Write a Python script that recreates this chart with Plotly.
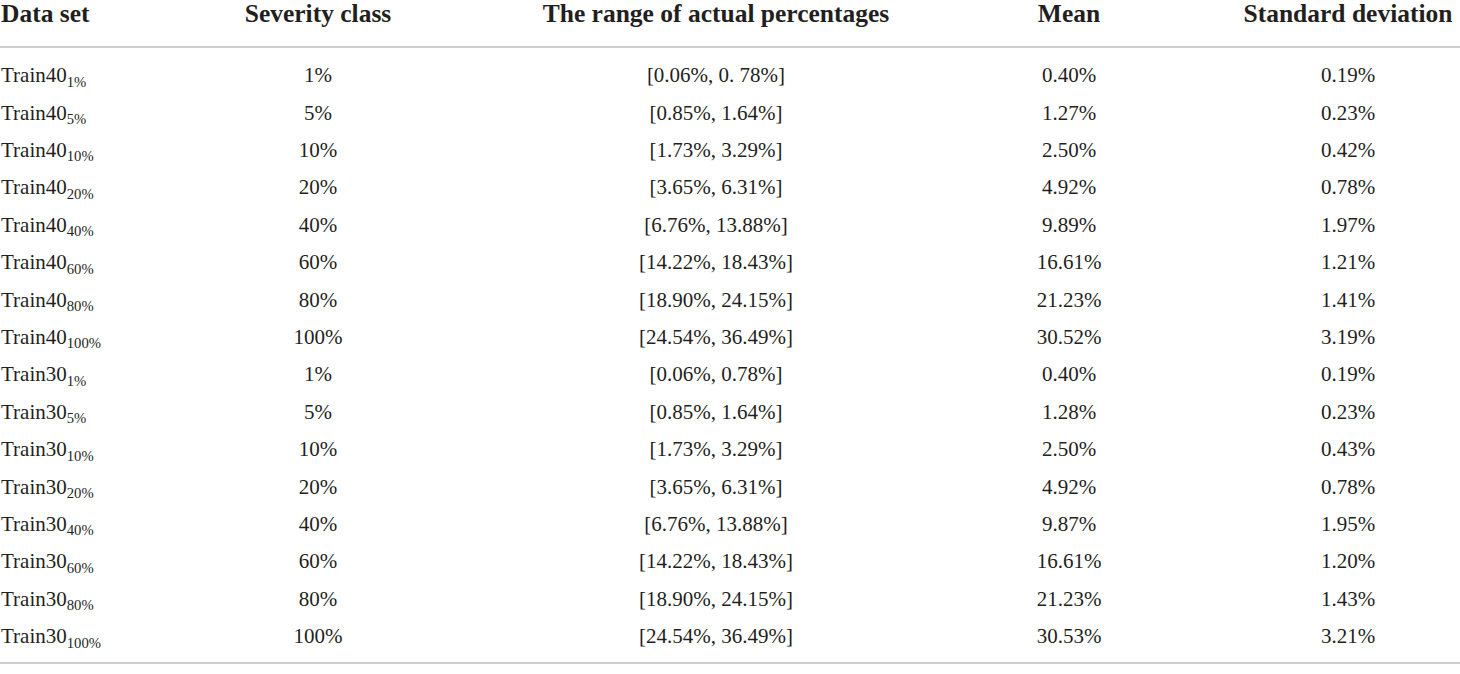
import plotly.graph_objects as go

# ---- table content ----
train_sets = ["Train40"] * 8 + ["Train30"] * 8
severity = ["1%", "5%", "10%", "20%", "40%", "60%", "80%", "100%"] * 2
ranges = [
    "[0.06%, 0. 78%]", "[0.85%, 1.64%]", "[1.73%, 3.29%]", "[3.65%, 6.31%]",
    "[6.76%, 13.88%]", "[14.22%, 18.43%]", "[18.90%, 24.15%]", "[24.54%, 36.49%]",
    "[0.06%, 0.78%]", "[0.85%, 1.64%]", "[1.73%, 3.29%]", "[3.65%, 6.31%]",
    "[6.76%, 13.88%]", "[14.22%, 18.43%]", "[18.90%, 24.15%]", "[24.54%, 36.49%]",
]
means = ["0.40%", "1.27%", "2.50%", "4.92%", "9.89%", "16.61%", "21.23%", "30.52%",
         "0.40%", "1.28%", "2.50%", "4.92%", "9.87%", "16.61%", "21.23%", "30.53%"]
stds = ["0.19%", "0.23%", "0.42%", "0.78%", "1.97%", "1.21%", "1.41%", "3.19%",
        "0.19%", "0.23%", "0.43%", "0.78%", "1.95%", "1.20%", "1.43%", "3.21%"]
headers = ["Data set", "Severity class", "The range of actual percentages",
           "Mean", "Standard deviation"]

# ---- layout helpers ----
W, H = 1460, 674
col_x = [1, 318, 716, 1069, 1348]
row0, row_step = 77, 37.4
header_y = 16
ink = "#231f20"
rule = "#bcbcbc"

rows_y = [row0 + i * row_step for i in range(len(severity))]
first_col = [f"{n}<sub>{s}</sub>" for n, s in zip(train_sets, severity)]
columns = [first_col, severity, ranges, means, stds]

fig = go.Figure()

for i, (cx, vals) in enumerate(zip(col_x, columns)):
    pos = "middle right" if i == 0 else "middle center"
    fig.add_trace(go.Scatter(
        x=[cx] * len(vals), y=rows_y, text=vals, mode="text",
        textposition=pos, hoverinfo="skip", showlegend=False,
        textfont=dict(family="Liberation Serif", size=21, color=ink),
    ))
    fig.add_trace(go.Scatter(
        x=[cx], y=[header_y], text=[f"<b>{headers[i]}</b>"], mode="text",
        textposition=pos, hoverinfo="skip", showlegend=False,
        textfont=dict(family="Liberation Serif", size=25.5, color=ink),
    ))

# horizontal rules under header and at the bottom
fig.add_shape(type="line", x0=0, x1=W, y0=47, y1=47,
              line=dict(color=rule, width=1.5))
fig.add_shape(type="line", x0=0, x1=W, y0=663, y1=663,
              line=dict(color=rule, width=1.5))

fig.update_layout(
    width=W, height=H,
    margin=dict(l=0, r=0, t=0, b=0),
    paper_bgcolor="white", plot_bgcolor="white",
    xaxis=dict(range=[0, W], visible=False, fixedrange=True),
    yaxis=dict(range=[H, 0], visible=False, fixedrange=True),
)

# drop the default page margin so the table sits flush at the corner
fig.write_html("out.html", config={"displayModeBar": False},
               post_script="document.body.style.margin='0';")
